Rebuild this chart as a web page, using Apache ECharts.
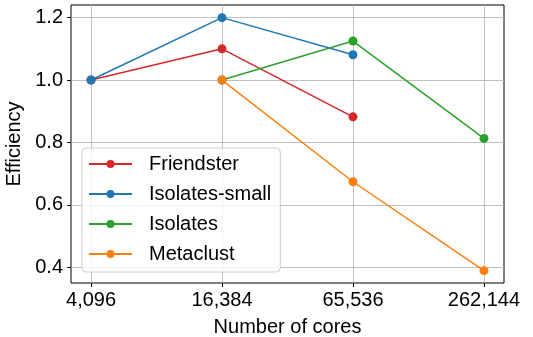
<!DOCTYPE html>
<html><head><meta charset="utf-8">
<script src="https://cdn.jsdelivr.net/npm/echarts@6/dist/echarts.min.js"></script>
<style>html,body{margin:0;padding:0;background:#fff}#c{width:533px;height:337px}</style>
</head><body><div id="c"></div>
<script>
const coreLabels = ['4,096', '16,384', '65,536', '262,144'];
const seriesNames = ['Friendster', 'Isolates-small', 'Isolates', 'Metaclust'];
const friendster = [1.0, 1.1, 0.882, null];
const isolatesSmall = [1.0, 1.2, 1.081, null];
const isolates = [null, 1.0, 1.125, 0.813];
const metaclust = [null, 1.0, 0.674, 0.389];
const colors = ['#d62728', '#1f77b4', '#2ca02c', '#ff7f0e'];
const yTicks = [0.4, 0.6, 0.8, 1.0, 1.2];

const allData = [friendster, isolatesSmall, isolates, metaclust];
const xIdx = coreLabels.map((c, i) => i);
const font = 'Liberation Sans, Arial, sans-serif';
const chart = echarts.init(document.getElementById('c'));
chart.setOption({
  animation: false,
  grid: {left: 71, right: 29, top: 5, bottom: 54, show: true, outerBoundsMode: 'none', containLabel: false,
    borderColor: '#000', borderWidth: 1, backgroundColor: 'transparent'},
  xAxis: {
    type: 'value', min: -0.153, max: 3.153, position: 'bottom',
    name: 'Number of cores', nameLocation: 'middle', nameGap: 34,
    nameTextStyle: {fontFamily: font, fontSize: 20, color: '#000'},
    axisLine: {show: false, onZero: false},
    axisTick: {show: true, length: 4, customValues: xIdx, lineStyle: {color: '#000'}},
    axisLabel: {fontFamily: font, fontSize: 20, color: '#000', margin: 7, customValues: xIdx,
      formatter: v => coreLabels[Math.round(v)]},
    splitLine: {show: true, lineStyle: {color: '#b0b0b0', width: 0.8}}
  },
  yAxis: {
    type: 'value', min: 0.3495, max: 1.2405, position: 'left',
    name: 'Efficiency', nameLocation: 'middle', nameGap: 36,
    nameTextStyle: {fontFamily: font, fontSize: 20, color: '#000'},
    axisLine: {show: false, onZero: false},
    axisTick: {show: true, length: 4, customValues: yTicks, lineStyle: {color: '#000'}},
    axisLabel: {fontFamily: font, fontSize: 20, color: '#000', margin: 8, customValues: yTicks,
      formatter: v => v.toFixed(1)},
    splitLine: {show: true, lineStyle: {color: '#b0b0b0', width: 0.8}}
  },
  legend: {
    orient: 'vertical', left: 82, top: 148, itemWidth: 43, itemHeight: 10, itemGap: 10,
    padding: [6, 9, 8, 6],
    backgroundColor: 'rgba(255,255,255,0.8)', borderColor: '#cccccc', borderWidth: 1, borderRadius: 4,
    textStyle: {fontFamily: font, fontSize: 20, color: '#000', padding: [0, 0, 0, 12]},
    data: seriesNames
  },
  series: seriesNames.map((n, k) => ({
    name: n, type: 'line',
    data: coreLabels.map((c, i) => allData[k][i] == null ? null : [i, allData[k][i]]).filter(d => d),
    color: colors[k], symbol: 'circle', symbolSize: 9, showSymbol: true,
    lineStyle: {width: 1.5}, itemStyle: {color: colors[k]}
  }))
});
</script></body></html>
